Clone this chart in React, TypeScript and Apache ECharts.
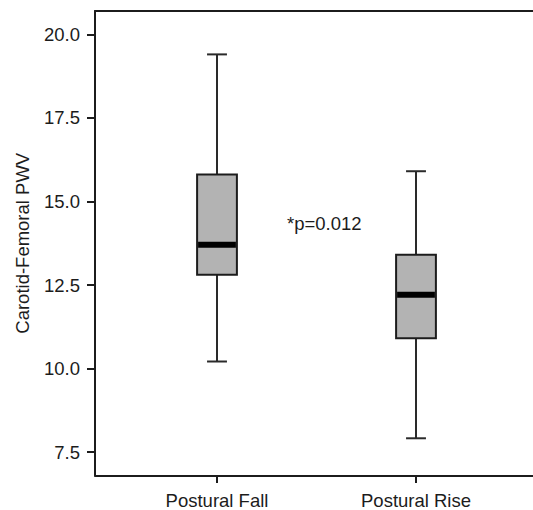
import React, { useEffect, useRef } from "react";
import * as echarts from "echarts";

const categories = ["Postural Fall", "Postural Rise"];
const whiskerMin = [10.2, 7.9];
const q1 = [12.8, 10.9];
const medians = [13.7, 12.2];
const q3 = [15.8, 13.4];
const whiskerMax = [19.4, 15.9];
const yTicks = [7.5, 10.0, 12.5, 15.0, 17.5, 20.0];
const yAxisName = "Carotid-Femoral PWV";
const annotation = "*p=0.012";

const FONT = "'Liberation Sans', Arial, Helvetica, sans-serif";
const INK = "#1c1c1c";
const FS = 18.5;

export default function App() {
  const ref = useRef<HTMLDivElement>(null);
  useEffect(() => {
    if (!ref.current) return;
    const chart = echarts.init(ref.current, null, { renderer: "svg" });
    const boxData = categories.map((_, i) => [
      i,
      whiskerMin[i],
      q1[i],
      medians[i],
      q3[i],
      whiskerMax[i],
    ]);
    const yMin = 6.8;
    const yMax = 20.7;
    const frameAxis = (position: string) => ({
      type: "value",
      gridIndex: 1,
      position,
      min: 0,
      max: 1,
      axisLine: { show: true, onZero: false, lineStyle: { color: INK, width: 2 } },
      axisTick: { show: false },
      axisLabel: { show: false },
      splitLine: { show: false },
    });
    chart.setOption({
      animation: false,
      backgroundColor: "#ffffff",
      textStyle: { fontFamily: FONT },
      grid: [
        { left: 117.5, right: 17.5, top: 11, bottom: 34.5 },
        { left: 95, width: 460, top: 11, bottom: 34.5 },
      ],
      xAxis: [
        {
          type: "category",
          gridIndex: 0,
          data: categories,
          boundaryGap: true,
          axisLine: { show: false },
          axisTick: {
            show: true,
            alignWithLabel: true,
            length: 8,
            lineStyle: { color: INK, width: 2 },
          },
          axisLabel: {
            color: INK,
            fontSize: FS,
            fontFamily: FONT,
            margin: 16,
          },
          splitLine: { show: false },
        },
        frameAxis("bottom"),
        frameAxis("top"),
      ],
      yAxis: [
        {
          type: "value",
          gridIndex: 0,
          min: yMin,
          max: yMax,
          show: false,
        },
        {
          type: "value",
          gridIndex: 1,
          min: yMin,
          max: yMax,
          name: yAxisName,
          nameLocation: "middle",
          nameGap: 63,
          nameTextStyle: { color: INK, fontSize: FS, fontFamily: FONT },
          axisLine: { show: true, onZero: false, lineStyle: { color: INK, width: 2 } },
          axisTick: {
            show: true,
            length: 8,
            customValues: yTicks,
            lineStyle: { color: INK, width: 2 },
          },
          axisLabel: {
            show: true,
            customValues: yTicks,
            formatter: (v: number) => v.toFixed(1),
            color: INK,
            fontSize: FS,
            fontFamily: FONT,
            margin: 15,
          },
          splitLine: { show: false },
        },
      ],
      graphic: [
        {
          type: "text",
          left: 287,
          top: 214,
          style: {
            text: annotation,
            fill: INK,
            font: `${FS}px ${FONT}`,
          },
        },
      ],
      series: [
        {
          type: "custom",
          xAxisIndex: 0,
          yAxisIndex: 0,
          data: boxData,
          encode: { x: 0, y: [1, 2, 3, 4, 5] },
          renderItem: (params: any, api: any) => {
            const idx = api.value(0);
            const pMin = api.coord([idx, api.value(1)]);
            const pQ1 = api.coord([idx, api.value(2)]);
            const pMed = api.coord([idx, api.value(3)]);
            const pQ3 = api.coord([idx, api.value(4)]);
            const pMax = api.coord([idx, api.value(5)]);
            const band = api.size([1, 0])[0];
            const boxHalf = band * 0.1;
            const capHalf = band * 0.05;
            const cx = pMin[0];
            const line = { stroke: "#2a2a2a", lineWidth: 2 };
            return {
              type: "group",
              children: [
                {
                  type: "line",
                  shape: { x1: cx, y1: pMax[1], x2: cx, y2: pQ3[1] },
                  style: line,
                },
                {
                  type: "line",
                  shape: { x1: cx, y1: pQ1[1], x2: cx, y2: pMin[1] },
                  style: line,
                },
                {
                  type: "line",
                  shape: { x1: cx - capHalf, y1: pMax[1], x2: cx + capHalf, y2: pMax[1] },
                  style: line,
                },
                {
                  type: "line",
                  shape: { x1: cx - capHalf, y1: pMin[1], x2: cx + capHalf, y2: pMin[1] },
                  style: line,
                },
                {
                  type: "rect",
                  shape: {
                    x: cx - boxHalf,
                    y: pQ3[1],
                    width: boxHalf * 2,
                    height: pQ1[1] - pQ3[1],
                  },
                  style: { fill: "#b3b3b3", stroke: INK, lineWidth: 2 },
                },
                {
                  type: "line",
                  shape: { x1: cx - boxHalf + 1, y1: pMed[1], x2: cx + boxHalf - 1, y2: pMed[1] },
                  style: { stroke: "#000000", lineWidth: 6 },
                },
              ],
            };
          },
        },
      ],
    });
    return () => chart.dispose();
  }, []);
  return (
    <div
      ref={ref}
      style={{ position: "fixed", left: 0, top: 0, width: 533, height: 510, background: "#fff" }}
    />
  );
}
